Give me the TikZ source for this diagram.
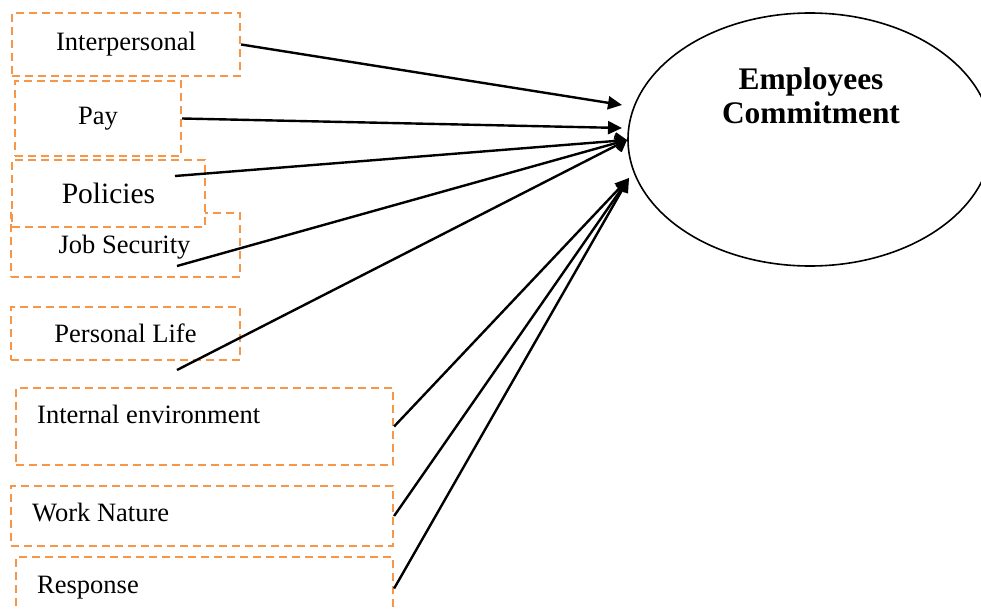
\documentclass[tikz,border=0pt]{standalone}
\usepackage{fontspec}
\setmainfont{Liberation Serif}
\usetikzlibrary{arrows.meta,shapes.geometric}
\definecolor{boxorange}{HTML}{F79646}

\begin{document}
\begin{tikzpicture}[x=1pt,y=-1pt,
  box/.style={draw=boxorange, line width=2.2pt, dash pattern=on 8pt off 5pt, fill=white, inner sep=0pt, font=\fontsize{26.5}{30}\selectfont},
  txt/.style={inner sep=0pt, font=\fontsize{26.5}{30}\selectfont},
  link/.style={line width=2.4pt, -{Triangle[length=14pt,width=13pt]}},
  openlink/.style={line width=2.4pt, -{Straight Barb[length=9pt,width=15pt]}}]
\useasboundingbox (0,0) rectangle (981,610);
\clip (0,0) rectangle (981,610);
\node[box, minimum width=228pt, minimum height=63pt] (inter) at (126,44.5) {Interpersonal};
\node[box, minimum width=166pt, minimum height=75pt] (pay) at (98,118.5) {Pay};
\node[box, minimum width=229pt, minimum height=64pt] (job) at (125.5,245) {};
\node[box, minimum width=193pt, minimum height=67pt, font=\fontsize{29.5}{33}\selectfont] (pol) at (108.5,193.5) {Policies};
\node[txt, anchor=base] (jobtext) at (124.5,253) {Job Security};
\node[box, minimum width=229pt, minimum height=53pt] (life) at (125.5,333.5) {Personal Life};
\node[box, minimum width=377pt, minimum height=77pt] (env) at (204.5,426.5) {};
\node[txt, anchor=base west] (envtext) at (37,423) {Internal environment};
\node[box, minimum width=382pt, minimum height=60pt] (work) at (202,516) {};
\node[txt, anchor=base west] (worktext) at (32,521) {Work Nature};
\node[box, minimum width=377pt, minimum height=63pt] (resp) at (204.5,588.5) {};
\node[txt, anchor=base west] (resptext) at (37,593) {Response};
\node[draw, ellipse, line width=1.6pt, minimum width=364pt, minimum height=253pt, inner sep=0pt] (emp) at (810,139.5) {};
\node[align=center, inner sep=0pt, font=\bfseries\fontsize{31.4}{34}\selectfont] (emptext) at (811,96) {Employees\\Commitment};
\coordinate (tipA) at (622,105);
\coordinate (tipB) at (622,128);
\coordinate (tipC) at (627,140);
\coordinate (tipD) at (629,178);
\coordinate (sPol) at (175,176);
\coordinate (sJob) at (177,266);
\coordinate (sLife) at (177,370);
\draw[link] (inter.east) -- (tipA);
\draw[link] (pay.east) -- (tipB);
\draw[openlink] (sPol) -- (tipC);
\draw[openlink] (sJob) -- (tipC);
\draw[openlink] (sLife) -- (tipC);
\draw[link] (env.east) -- (tipD);
\draw[link] (work.east) -- (tipD);
\draw[link] (resp.east) -- (tipD);
\end{tikzpicture}
\end{document}
